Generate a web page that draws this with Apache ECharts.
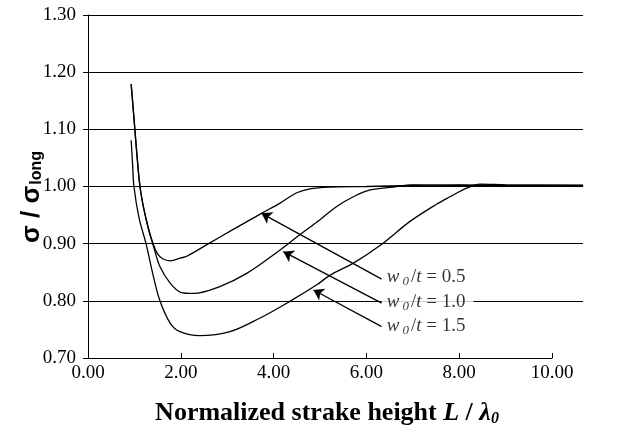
<!DOCTYPE html>
<html>
<head>
<meta charset="utf-8">
<script src="https://cdn.jsdelivr.net/npm/echarts@6/dist/echarts.min.js"></script>
<style>
  html, body { margin: 0; padding: 0; background: #fff; }
  #chart { width: 617px; height: 435px; }
</style>
</head>
<body>
<div id="chart"></div>
<script>
// values
const xTicks = [0, 2, 4, 6, 8, 10];
const yTicks = [0.7, 0.8, 0.9, 1.0, 1.1, 1.2, 1.3];

const curveX05 = [0.93, 0.97, 1.01, 1.06, 1.12, 1.2, 1.3, 1.41, 1.5, 1.6, 1.77, 2.0, 2.13, 2.6, 3.13, 3.74, 4.14, 4.5, 4.78, 5.2, 6.0, 7.0, 8.0, 9.0, 10.67];
const curveY05 = [1.179, 1.14, 1.10, 1.05, 1.00, 0.962, 0.927, 0.898, 0.882, 0.874, 0.870, 0.875, 0.878, 0.900, 0.925, 0.953, 0.971, 0.989, 0.996, 0.999, 1.000, 1.002, 1.003, 1.002, 1.002];

const curveX10 = [0.93, 0.97, 1.01, 1.06, 1.12, 1.2, 1.3, 1.41, 1.55, 1.77, 2.0, 2.27, 2.84, 3.42, 4.14, 4.57, 5.0, 5.36, 5.72, 6.08, 6.58, 7.0, 8.0, 9.0, 10.67];
const curveY10 = [1.179, 1.14, 1.10, 1.05, 1.00, 0.962, 0.927, 0.896, 0.860, 0.831, 0.815, 0.813, 0.825, 0.848, 0.889, 0.916, 0.942, 0.965, 0.982, 0.994, 0.999, 1.003, 1.002, 1.002, 1.002];

const curveX15 = [0.93, 0.96, 0.99, 1.1, 1.25, 1.4, 1.55, 1.77, 1.98, 2.41, 3.06, 3.71, 4.35, 4.93, 5.22, 5.72, 6.33, 6.94, 7.51, 7.8, 8.16, 8.45, 9.0, 10.67];
const curveY15 = [1.081, 1.04, 1.00, 0.945, 0.900, 0.846, 0.800, 0.761, 0.746, 0.739, 0.746, 0.770, 0.799, 0.828, 0.845, 0.866, 0.899, 0.939, 0.969, 0.982, 0.997, 1.004, 1.003, 1.002];

const ratioLabels = ['0.5', '1.0', '1.5'];
const arrowTail = [[6.33, 0.838], [6.33, 0.796], [6.33, 0.755]];
const arrowHead = [[3.74, 0.953], [4.21, 0.886], [4.86, 0.819]];
const labelPos = [[6.33, 0.842], [6.33, 0.798], [6.33, 0.756]];

const serif = '"Liberation Serif", "Times New Roman", serif';
const sans = '"Liberation Sans", Arial, sans-serif';

function pairs(xs, ys) {
  return xs.map((x, i) => [x, ys[i]]);
}

function curve(name, xs, ys, k) {
  return {
    name: name,
    type: 'line',
    xAxisIndex: 0,
    yAxisIndex: 0,
    data: pairs(xs, ys),
    showSymbol: false,
    smooth: 0.35,
    lineStyle: { color: '#000', width: 1.3 },
    silent: true,
    markLine: {
      silent: true,
      symbol: ['none', 'arrow'],
      symbolSize: 10,
      label: { show: false },
      lineStyle: { color: '#000', width: 1.3, type: 'solid' },
      data: [[{ coord: arrowTail[k] }, { coord: arrowHead[k] }]]
    }
  };
}

const chart = echarts.init(document.getElementById('chart'), null, { renderer: 'canvas' });

chart.setOption({
  animation: false,
  backgroundColor: '#fff',
  grid: [
    { left: 88, top: 15, width: 495.1, height: 343, containLabel: false, outerBoundsMode: 'none' },
    { left: 88, top: 15, width: 464, height: 343, containLabel: false, outerBoundsMode: 'none' }
  ],
  // y axis title, drawn as rotated text beside the tick labels
  graphic: [{
    type: 'text',
    x: 32,
    y: 197,
    rotation: Math.PI / 2,
    silent: true,
    style: {
      text: '{a|σ / σ}{s|long}',
      align: 'center',
      verticalAlign: 'middle',
      rich: {
        a: { fontFamily: sans, fontWeight: 'bold', fontSize: 26, fill: '#000', lineHeight: 26 },
        s: { fontFamily: sans, fontWeight: 'bold', fontSize: 16, fill: '#000', lineHeight: 16, padding: [12, 0, 0, 1], verticalAlign: 'bottom' }
      }
    }
  }],
  xAxis: [
    { gridIndex: 0, type: 'value', min: 0, max: 10.67, show: false },
    {
      gridIndex: 1, type: 'value',
      min: xTicks[0], max: xTicks[xTicks.length - 1], interval: 2,
      axisLine: { onZero: false, lineStyle: { color: '#000', width: 1 } },
      axisTick: { inside: true, length: 5, lineStyle: { color: '#000' } },
      splitLine: { show: false },
      axisLabel: { color: '#000', fontFamily: serif, fontSize: 19, margin: 6, formatter: v => v.toFixed(2) },
      name: '{b|Normalized strake height }{i|L}{b| / }{i|λ}{s|0}',
      nameLocation: 'middle',
      nameGap: 41,
      nameTextStyle: {
        padding: [0, 0, 0, 14],
        rich: {
          b: { fontFamily: serif, fontWeight: 'bold', fontSize: 26, color: '#000', lineHeight: 28 },
          i: { fontFamily: serif, fontWeight: 'bold', fontStyle: 'italic', fontSize: 26, color: '#000', lineHeight: 28 },
          s: { fontFamily: serif, fontWeight: 'bold', fontStyle: 'italic', fontSize: 16, color: '#000', lineHeight: 17, verticalAlign: 'bottom' }
        }
      }
    }
  ],
  yAxis: [
    {
      gridIndex: 0, type: 'value',
      min: yTicks[0], max: yTicks[yTicks.length - 1], interval: 0.1,
      axisLine: { show: true, lineStyle: { color: '#000', width: 1 } },
      axisTick: { show: true, inside: false, length: 5, lineStyle: { color: '#000' } },
      splitLine: { show: true, lineStyle: { color: ['rgba(0,0,0,0)', '#000', '#000', '#000', '#000', '#000', '#000'], width: 1 } },
      axisLabel: { color: '#000', fontFamily: serif, fontSize: 19, margin: 12, formatter: v => v.toFixed(2) }
    },
    { gridIndex: 1, type: 'value', min: yTicks[0], max: yTicks[yTicks.length - 1], show: false }
  ],
  series: [
    curve('w0/t = 0.5', curveX05, curveY05, 0),
    curve('w0/t = 1.0', curveX10, curveY10, 1),
    curve('w0/t = 1.5', curveX15, curveY15, 2),
    {
      name: 'labels',
      type: 'scatter',
      xAxisIndex: 0,
      yAxisIndex: 0,
      symbolSize: 0,
      silent: true,
      z: 5,
      data: labelPos.map((p, i) => [p[0], p[1], ratioLabels[i]]),
      label: {
        show: true,
        position: 'right',
        distance: 0,
        backgroundColor: '#fff',
        padding: [0, 8, 0, 5],
        formatter: p => '{i|w}{s|0}{n|/}{i|t}{n| = ' + p.value[2] + '}',
        rich: {
          i: { fontFamily: serif, fontStyle: 'italic', fontSize: 19, color: '#000', lineHeight: 22 },
          n: { fontFamily: serif, fontSize: 19, color: '#000', lineHeight: 22 },
          s: { fontFamily: serif, fontStyle: 'italic', fontSize: 13, color: '#000', lineHeight: 13, verticalAlign: 'bottom', padding: [0, 2, 0, 3] }
        }
      }
    }
  ]
});
</script>
</body>
</html>
